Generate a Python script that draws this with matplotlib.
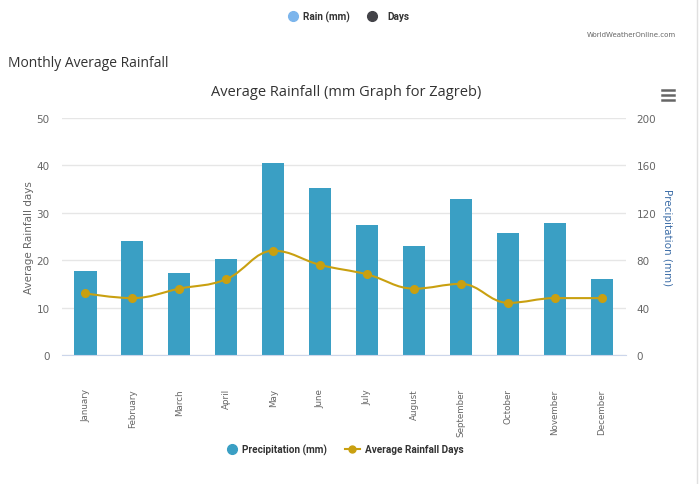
import matplotlib.pyplot as plt
from matplotlib.path import Path
from matplotlib.patches import PathPatch
from matplotlib.lines import Line2D

# 데이터
months = ["January", "February", "March", "April", "May", "June",
          "July", "August", "September", "October", "November", "December"]
rain_mm = [71, 96, 69, 81, 162, 141, 110, 92, 132, 103, 111, 64]
rain_days = [13, 12, 14, 16, 22, 19, 17, 14, 15, 11, 12, 12]

bar_color = "#3a9fc4"
line_color = "#c9a010"
grey = "#666666"
narrow = ["Liberation Sans Narrow", "Roboto", "DejaVu Sans"]

fig = plt.figure(figsize=(7, 4.85), dpi=100)
ax = fig.add_axes([0.0886, 0.266, 0.805, 0.4886])
ax2 = ax.twinx()

x = list(range(len(months)))

# 막대 (오른쪽 축)
ax2.bar(x, rain_mm, width=0.47, color=bar_color, zorder=2)
ax2.set_ylim(0, 200)
ax2.set_yticks([0, 40, 80, 120, 160, 200])

# 스플라인 곡선 (Highcharts 방식 제어점)
def spline_path(xs, ys, smoothing=1.5):
    denom = smoothing + 1
    n = len(xs)
    verts = [(xs[0], ys[0])]
    codes = [Path.MOVETO]
    left = [None] * n
    right = [None] * n
    for i in range(1, n - 1):
        lx = (smoothing * xs[i] + xs[i - 1]) / denom
        ly = (smoothing * ys[i] + ys[i - 1]) / denom
        rx = (smoothing * xs[i] + xs[i + 1]) / denom
        ry = (smoothing * ys[i] + ys[i + 1]) / denom
        corr = (ry - ly) * (rx - xs[i]) / (rx - lx) + ys[i] - ry
        ly += corr
        ry += corr
        if ly > max(ys[i - 1], ys[i]):
            ly = max(ys[i - 1], ys[i]); ry = 2 * ys[i] - ly
        elif ly < min(ys[i - 1], ys[i]):
            ly = min(ys[i - 1], ys[i]); ry = 2 * ys[i] - ly
        if ry > max(ys[i + 1], ys[i]):
            ry = max(ys[i + 1], ys[i]); ly = 2 * ys[i] - ry
        elif ry < min(ys[i + 1], ys[i]):
            ry = min(ys[i + 1], ys[i]); ly = 2 * ys[i] - ry
        left[i] = (lx, ly)
        right[i] = (rx, ry)
    for i in range(1, n):
        c1 = right[i - 1] if right[i - 1] else (xs[i - 1], ys[i - 1])
        c2 = left[i] if left[i] else (xs[i], ys[i])
        verts += [c1, c2, (xs[i], ys[i])]
        codes += [Path.CURVE4] * 3
    return Path(verts, codes)

ax.set_zorder(ax2.get_zorder() + 1)
ax.patch.set_visible(False)
ax.add_patch(PathPatch(spline_path(x, rain_days), fill=False, edgecolor=line_color, lw=1.5, zorder=3))
ax.plot(x, rain_days, "o", color=line_color, ms=5.5, zorder=4)
ax.set_ylim(0, 50)
ax.set_yticks([0, 10, 20, 30, 40, 50])
ax.set_xlim(-0.5, 11.5)
ax.set_xticks(x)
ax.set_xticklabels(months, rotation=90, va="top")

# 격자, 축
ax2.set_axisbelow(True)
ax2.yaxis.grid(True, color="#e6e6e6", lw=1)
ax.grid(False)
for a in (ax, ax2):
    for s in a.spines.values():
        s.set_visible(False)
ax.spines["bottom"].set_visible(True)
ax.spines["bottom"].set_color("#ccd6eb")
ax.tick_params(axis="y", length=0, labelsize=7.5, labelcolor=grey, pad=9)
ax2.tick_params(axis="y", length=0, labelsize=7.5, labelcolor=grey, pad=8)
ax.tick_params(axis="x", length=0, labelsize=6.3, labelcolor=grey, pad=24)

ax.set_ylabel("Average Rainfall days", fontsize=7.5, color=grey, labelpad=2)
ax2.set_ylabel("Precipitation (mm)", fontsize=7.5, color="#3f6fa8", rotation=270, labelpad=11)

# 제목, 텍스트
fig.text(0.495, 0.81, "Average Rainfall (mm Graph for Zagreb)", ha="center", va="center",
         fontsize=10.5, color="#333333", family=["Open Sans", "DejaVu Sans"])
fig.text(0.012, 0.87, "Monthly Average Rainfall", ha="left", va="center", fontsize=10,
         color="#333333", family=["Open Sans", "DejaVu Sans"])
fig.text(0.966, 0.928, "WorldWeatherOnline.com", ha="right", va="center", fontsize=5, color=grey)

# 메뉴 아이콘
for yy in (0.813, 0.802, 0.791):
    fig.add_artist(Line2D([0.945, 0.963], [yy, yy], color=grey, lw=1.8))

# 위쪽 범례
fig.add_artist(Line2D([0.418], [0.965], marker="o", ms=7, color="#7cb5ec", ls=""))
fig.text(0.433, 0.965, "Rain (mm)", ha="left", va="center", fontsize=7.2, fontweight="bold",
         color="#333333", family=narrow)
fig.add_artist(Line2D([0.532], [0.965], marker="o", ms=7, color="#434348", ls=""))
fig.text(0.553, 0.965, "Days", ha="left", va="center", fontsize=7.2, fontweight="bold",
         color="#333333", family=narrow)

# 아래쪽 범례
fig.add_artist(Line2D([0.331], [0.072], marker="o", ms=7, color=bar_color, ls=""))
fig.text(0.346, 0.072, "Precipitation (mm)", ha="left", va="center", fontsize=7.2, fontweight="bold",
         color="#333333", family=narrow)
fig.add_artist(Line2D([0.493, 0.514], [0.072, 0.072], color=line_color, lw=1.5))
fig.add_artist(Line2D([0.5035], [0.072], marker="o", ms=5, color=line_color, ls=""))
fig.text(0.522, 0.072, "Average Rainfall Days", ha="left", va="center", fontsize=7.2, fontweight="bold",
         color="#333333", family=narrow)

# 오른쪽 테두리
fig.add_artist(Line2D([0.996, 0.996], [0, 1], color="#e0e0e0", lw=1))

fig.savefig("out.png", dpi=100, facecolor="white")
